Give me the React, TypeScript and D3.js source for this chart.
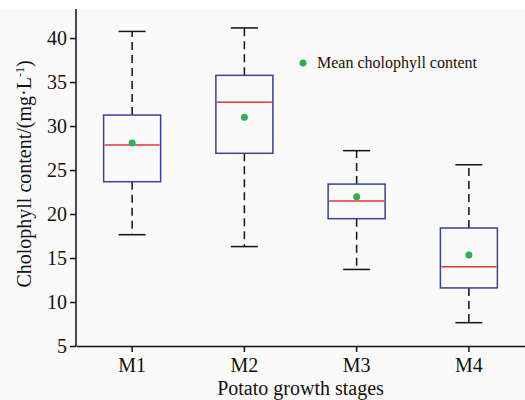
import * as d3 from "d3";
import React, { useRef, useEffect } from "react";

// potato growth stages and box statistics (chlorophyll, mg/L)
const stages = ["M1", "M2", "M3", "M4"];
const whiskerLow = [17.65, 16.3, 13.7, 7.65];
const q1 = [23.67, 26.9, 19.47, 11.6];
const median = [27.84, 32.7, 21.48, 14.0];
const q3 = [31.25, 35.76, 23.4, 18.41];
const whiskerHigh = [40.75, 41.15, 27.2, 25.6];
const means = [28.07, 31.0, 21.97, 15.34];
const yTicks = [5, 10, 15, 20, 25, 30, 35, 40];

const W = 525;
const H = 400;
const FONT = '"Liberation Serif", "Times New Roman", Times, "DejaVu Serif", serif';

const App = () => {
  const svgRef = useRef<SVGSVGElement>(null);

  useEffect(() => {
    const svg = d3.select(svgRef.current);
    svg.selectAll("*").remove();

    const left = 76, right = 525, top = 9, bottom = 346;

    const x = d3.scaleBand().domain(stages).range([left, right]).padding(0);
    const y = d3.scaleLinear().domain([5, 43.3]).range([bottom, top]);
    const cx = (s: string) => (x(s) as number) + x.bandwidth() / 2;

    // background
    svg.append("rect").attr("x", 0).attr("y", 0).attr("width", W).attr("height", H).attr("fill", "#ffffff");
    svg.append("rect").attr("x", 0).attr("y", 9).attr("width", W).attr("height", H - 9).attr("fill", "#fafafa");

    const rows = stages.map((s, i) => ({
      s, lo: whiskerLow[i], q1: q1[i], med: median[i], q3: q3[i], hi: whiskerHigh[i], mean: means[i],
    }));

    const boxW = 57;
    const capW = 27;
    const g = svg.append("g");

    // whiskers
    g.selectAll(".wu").data(rows).join("line")
      .attr("x1", d => cx(d.s)).attr("x2", d => cx(d.s))
      .attr("y1", d => y(d.q3)).attr("y2", d => y(d.hi))
      .attr("stroke", "#111").attr("stroke-width", 1.5).attr("stroke-dasharray", "8,5");
    g.selectAll(".wl").data(rows).join("line")
      .attr("x1", d => cx(d.s)).attr("x2", d => cx(d.s))
      .attr("y1", d => y(d.q1)).attr("y2", d => y(d.lo))
      .attr("stroke", "#111").attr("stroke-width", 1.5).attr("stroke-dasharray", "8,5");
    // caps
    ["hi", "lo"].forEach(k => {
      g.append("g").selectAll("line").data(rows).join("line")
        .attr("x1", d => cx(d.s) - capW / 2).attr("x2", d => cx(d.s) + capW / 2)
        .attr("y1", d => y((d as any)[k])).attr("y2", d => y((d as any)[k]))
        .attr("stroke", "#111").attr("stroke-width", 1.5);
    });
    // boxes
    g.append("g").selectAll("rect").data(rows).join("rect")
      .attr("x", d => cx(d.s) - boxW / 2).attr("width", boxW)
      .attr("y", d => y(d.q3)).attr("height", d => y(d.q1) - y(d.q3))
      .attr("fill", "none").attr("stroke", "#3b3f9e").attr("stroke-width", 1.5);
    // medians
    g.append("g").selectAll("line").data(rows).join("line")
      .attr("x1", d => cx(d.s) - boxW / 2 + 1).attr("x2", d => cx(d.s) + boxW / 2 - 1)
      .attr("y1", d => y(d.med)).attr("y2", d => y(d.med))
      .attr("stroke", "#e8323c").attr("stroke-width", 1.5);
    // means
    g.append("g").selectAll("circle").data(rows).join("circle")
      .attr("cx", d => cx(d.s)).attr("cy", d => y(d.mean)).attr("r", 3.5)
      .attr("fill", "#2db34a");

    // axes
    const yAxis = d3.axisLeft(y).tickValues(yTicks).tickSize(6).tickSizeOuter(0);
    const ya = svg.append("g").attr("transform", `translate(${left},0)`).call(yAxis);
    ya.attr("font-family", null).style("font-family", FONT);
    ya.select(".domain").attr("stroke", "#111").attr("stroke-width", 1.5).attr("d", `M0,${top}V${bottom}`);
    ya.selectAll(".tick line").attr("stroke", "#111").attr("stroke-width", 1.5);
    ya.selectAll(".tick text").style("font-family", FONT).attr("font-size", 20).attr("fill", "#111").attr("x", -9);

    const xAxis = d3.axisBottom(x).tickSize(6).tickSizeOuter(0);
    const xa = svg.append("g").attr("transform", `translate(0,${bottom})`).call(xAxis);
    xa.attr("font-family", null).style("font-family", FONT);
    xa.select(".domain").attr("stroke", "#111").attr("stroke-width", 1.5);
    xa.selectAll(".tick line").attr("stroke", "#111").attr("stroke-width", 1.5);
    xa.selectAll(".tick text").style("font-family", FONT).attr("font-size", 20).attr("fill", "#111").attr("y", 12);

    // axis titles
    svg.append("text").attr("x", (left + right) / 2).attr("y", 395)
      .attr("text-anchor", "middle").style("font-family", FONT).attr("font-size", 20).attr("fill", "#111")
      .text("Potato growth stages");

    const yl = svg.append("text").attr("transform", `translate(31,174) rotate(-90)`)
      .attr("text-anchor", "middle").style("font-family", FONT).attr("font-size", 20).attr("fill", "#111");
    yl.append("tspan").text("Cholophyll content/(mg·L");
    yl.append("tspan").attr("dy", -7).attr("font-size", 12).text("-1");
    yl.append("tspan").attr("dy", 7).text(")");

    // legend
    svg.append("circle").attr("cx", 303).attr("cy", 63).attr("r", 3.5).attr("fill", "#2db34a");
    svg.append("text").attr("x", 317).attr("y", 68).style("font-family", FONT).attr("font-size", 16)
      .attr("fill", "#111").text("Mean cholophyll content");
  }, []);

  return (
    <svg ref={svgRef} width={W} height={H} style={{ position: "absolute", left: 0, top: 0 }} />
  );
};

export default App;
